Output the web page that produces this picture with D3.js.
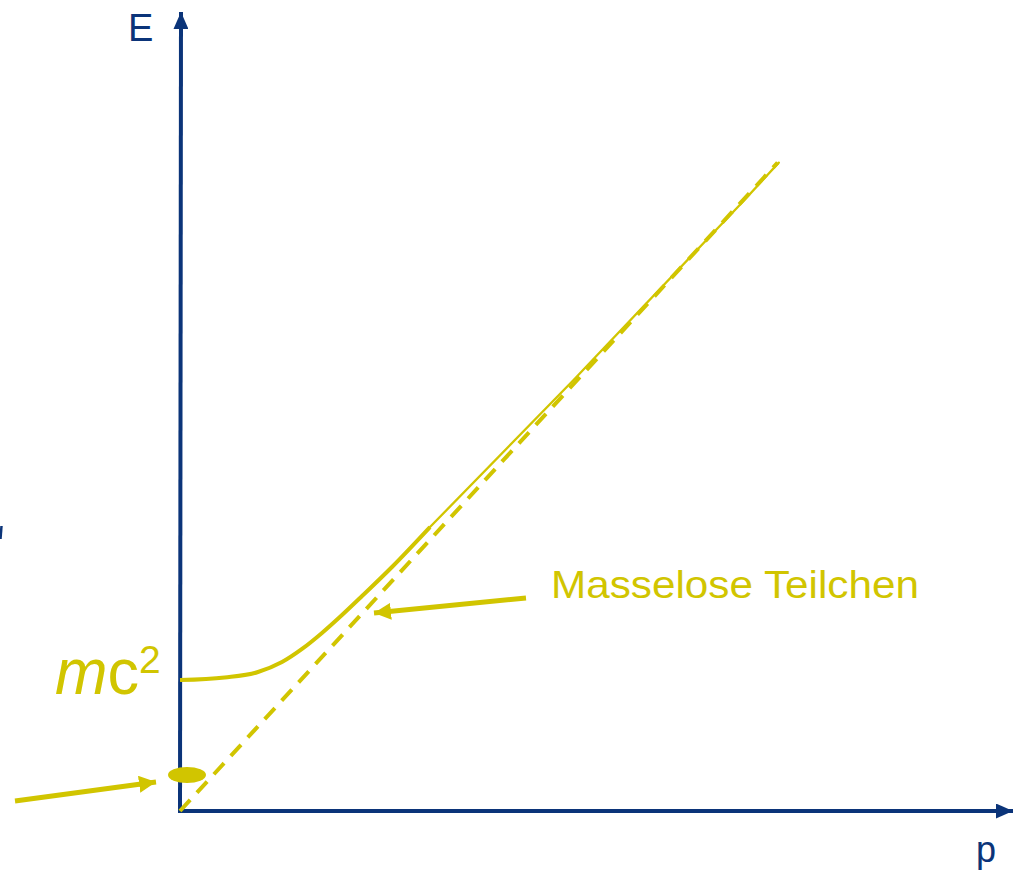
<!DOCTYPE html>
<html lang="de">
<head>
<meta charset="utf-8">
<script src="https://d3js.org/d3.v7.min.js"></script>
<style>
  body { margin: 0; background: #fff; }
  svg { display: block; font-family: "Liberation Sans", Arial, sans-serif; }
</style>
</head>
<body>
<script>
// E(p) curve, in units where mc^2 = 1
var curveP = [0.00, 0.37, 0.646, 0.845, 1.011, 1.176, 1.342, 1.508, 1.756, 2.071];
var curveE = [1.00, 1.02, 1.061, 1.137, 1.237, 1.359, 1.496, 1.641, 1.863, 2.168];
// upper, nearly straight part of the curve (drawn thinner)
var upperP = [2.071, 3.26, 4.66, 4.96];
var upperE = [2.168, 3.29, 4.65, 4.95];
// massless particles: E = pc
var masslessP = [0, 4.95];
var masslessE = [0, 4.95];
var restEnergy = 1;
var axisLabels = ["E", "p"];
var masslessLabel = "Masselose Teilchen";

var W = 1017, H = 874;
var blue = "#0b3479", yellow = "#d1c500";

var svg = d3.select("body").append("svg")
    .attr("width", W)
    .attr("height", H);

var x = d3.scaleLinear().domain([0, 6.9]).range([180, 1013]);
var y = d3.scaleLinear().domain([0, 6.1]).range([811, 12]);

var defs = svg.append("defs");
function arrowMarker(id, color, len, wid) {
    defs.append("marker")
        .attr("id", id)
        .attr("markerUnits", "userSpaceOnUse")
        .attr("markerWidth", len)
        .attr("markerHeight", wid)
        .attr("refX", len)
        .attr("refY", wid / 2)
        .attr("orient", "auto")
        .append("path")
        .attr("d", "M0,0L" + len + "," + (wid / 2) + "L0," + wid + "Z")
        .attr("fill", color);
}
arrowMarker("axisArrow", blue, 17, 15);
arrowMarker("yellowArrow", yellow, 17, 17);

// axes
svg.append("line")
    .attr("x1", x(0)).attr("y1", y(0) + 2)
    .attr("x2", x(0) + 1).attr("y2", y.range()[1])
    .attr("stroke", blue).attr("stroke-width", 4)
    .attr("marker-end", "url(#axisArrow)");
svg.append("line")
    .attr("x1", x(0) - 2).attr("y1", y(0))
    .attr("x2", x.range()[1]).attr("y2", y(0))
    .attr("stroke", blue).attr("stroke-width", 4)
    .attr("marker-end", "url(#axisArrow)");

svg.append("text")
    .attr("x", 128).attr("y", 41)
    .attr("fill", blue).attr("font-size", 38)
    .text(axisLabels[0]);
svg.append("text")
    .attr("x", 976).attr("y", 862)
    .attr("fill", blue).attr("font-size", 36)
    .text(axisLabels[1]);

// clipped glyph at the left edge
svg.append("line")
    .attr("x1", 1.5).attr("y1", 526)
    .attr("x2", 0.5).attr("y2", 539)
    .attr("stroke", blue).attr("stroke-width", 2.5);

// massless line (dashed)
var line = d3.line()
    .x(function(d) { return x(d[0]); })
    .y(function(d) { return y(d[1]); });

svg.append("path")
    .datum(d3.zip(masslessP, masslessE))
    .attr("d", line)
    .attr("fill", "none")
    .attr("stroke", yellow)
    .attr("stroke-width", 4)
    .attr("stroke-dasharray", "15,10");

// massive particle curve
var smooth = d3.line()
    .x(function(d) { return x(d[0]); })
    .y(function(d) { return y(d[1]); })
    .curve(d3.curveMonotoneX);

svg.append("path")
    .datum(d3.zip(curveP, curveE))
    .attr("d", smooth)
    .attr("fill", "none")
    .attr("stroke", yellow)
    .attr("stroke-width", 4);

svg.append("path")
    .datum(d3.zip(upperP, upperE))
    .attr("d", line)
    .attr("fill", "none")
    .attr("stroke", yellow)
    .attr("stroke-width", 2.3)
    .attr("stroke-linecap", "round");

// mc^2 label
var mc = svg.append("text")
    .attr("x", 55).attr("y", y(restEnergy) + 14)
    .attr("fill", yellow).attr("font-size", 64)
    .attr("textLength", 84).attr("lengthAdjust", "spacingAndGlyphs");
mc.append("tspan").attr("font-style", "italic").text("m");
mc.append("tspan").text("c");
var sup = svg.append("text")
    .attr("x", 139).attr("y", y(restEnergy) - 7)
    .attr("fill", yellow).attr("font-size", 39)
    .text("2");

// massless particle at rest
svg.append("ellipse")
    .attr("cx", x(0) + 7).attr("cy", 775)
    .attr("rx", 19).attr("ry", 8)
    .attr("fill", yellow);

svg.append("line")
    .attr("x1", 15).attr("y1", 801)
    .attr("x2", 156).attr("y2", 782)
    .attr("stroke", yellow).attr("stroke-width", 5)
    .attr("marker-end", "url(#yellowArrow)");

// label arrow
svg.append("line")
    .attr("x1", 526).attr("y1", 598)
    .attr("x2", 374).attr("y2", 613)
    .attr("stroke", yellow).attr("stroke-width", 5)
    .attr("marker-end", "url(#yellowArrow)");

svg.append("text")
    .attr("x", 551).attr("y", 598)
    .attr("fill", yellow).attr("font-size", 39)
    .attr("textLength", 368).attr("lengthAdjust", "spacingAndGlyphs")
    .text(masslessLabel);
</script>
</body>
</html>
